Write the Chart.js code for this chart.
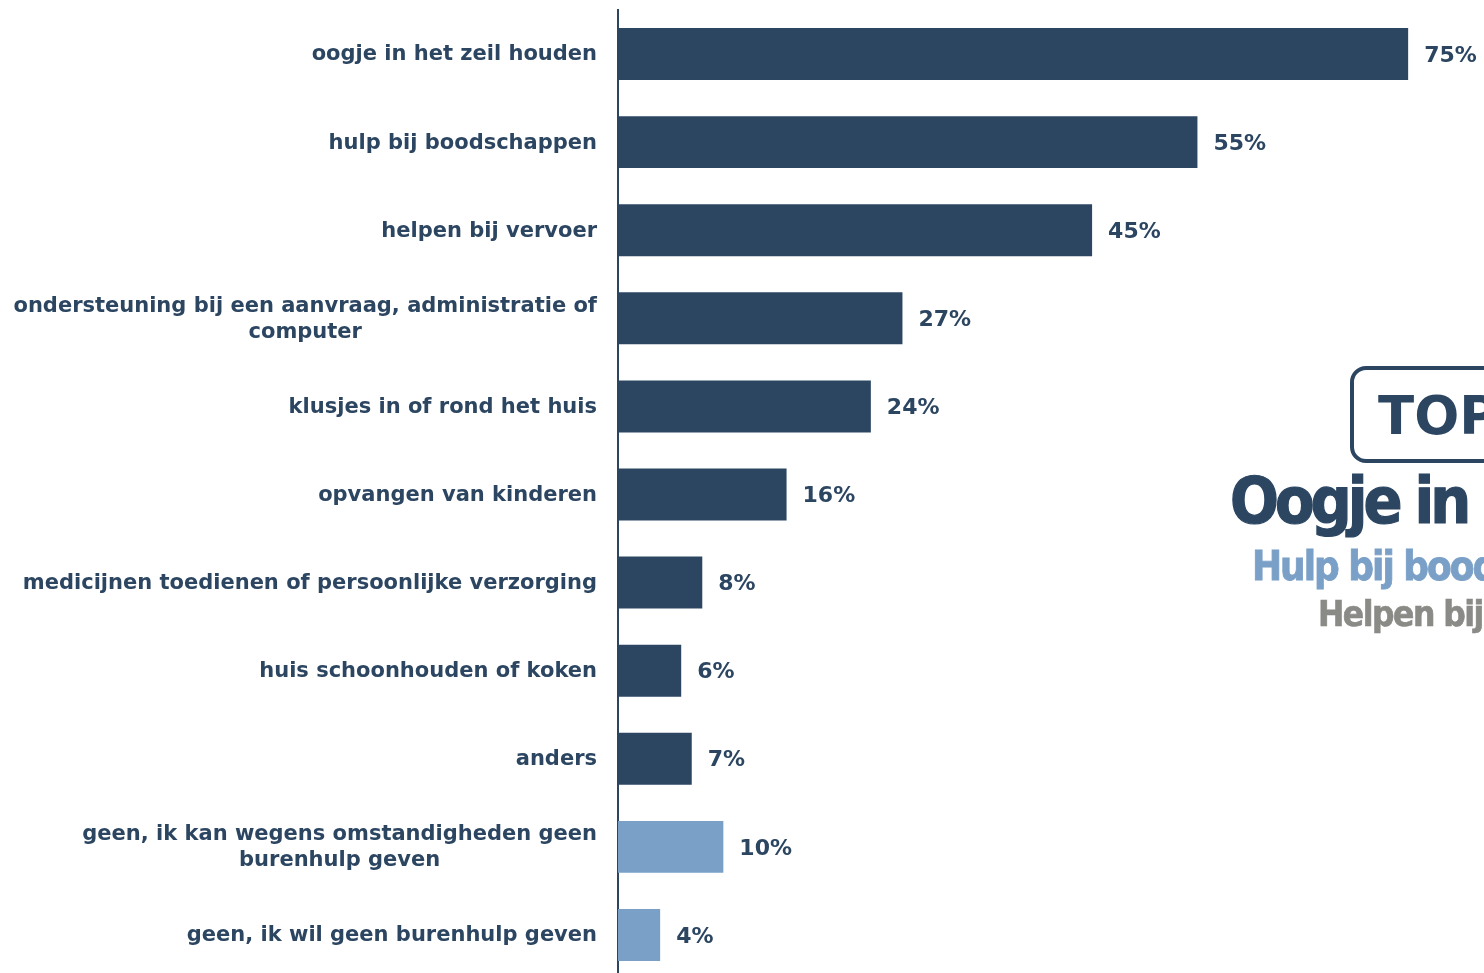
<!DOCTYPE html>
<html>
<head>
<meta charset="utf-8">
<script src="https://cdn.jsdelivr.net/npm/chart.js@4.4.1/dist/chart.umd.min.js"></script>
<style>
  html, body { margin: 0; padding: 0; background: #fff; overflow: hidden; width: 1484px; height: 973px; }
  #wrap { position: relative; width: 1484px; height: 980px; }
  #chart { position: absolute; left: 0; top: 0; }
  .side { position: absolute; white-space: nowrap; font-weight: bold; }
  #topbox { left: 1350px; top: 366px; width: 200px; height: 89px; border: 4px solid #2c4662; border-radius: 16px;
            color: #2c4662; font-family: "DejaVu Sans", Verdana, sans-serif; font-size: 53px; line-height: 92px; padding-left: 24px; }
  .cond { font-family: "DejaVu Sans Condensed", "DejaVu Sans", sans-serif; }
  #t1 { left: 1230px; top: 464px; color: #2c4662; font-size: 64px; letter-spacing: -4px; -webkit-text-stroke: 1.2px #2c4662; }
  #t2 { left: 1252px; top: 543px; color: #7aa0c8; font-size: 40px; letter-spacing: -2px; -webkit-text-stroke: 0.8px #7aa0c8; }
  #t3 { left: 1318px; top: 594px; color: #8a8a87; font-size: 35px; letter-spacing: -1.5px; -webkit-text-stroke: 0.6px #8a8a87; }
</style>
</head>
<body>
<div id="wrap">
  <canvas id="chart" width="1484" height="980"></canvas>
  <div class="side" id="topbox">TOP 3</div>
  <div class="side cond" id="t1">Oogje in het zeil houden</div>
  <div class="side cond" id="t2">Hulp bij boodschappen</div>
  <div class="side cond" id="t3">Helpen bij vervoer</div>
</div>
<script>
// answers (percent of respondents)
const categories = [
  "oogje in het zeil houden",
  "hulp bij boodschappen",
  "helpen bij vervoer",
  ["ondersteuning bij een aanvraag, administratie of", "computer"],
  "klusjes in of rond het huis",
  "opvangen van kinderen",
  "medicijnen toedienen of persoonlijke verzorging",
  "huis schoonhouden of koken",
  "anders",
  ["geen, ik kan wegens omstandigheden geen", "burenhulp geven"],
  "geen, ik wil geen burenhulp geven"
];
const values = [75, 55, 45, 27, 24, 16, 8, 6, 7, 10, 4];
const isNone = [false, false, false, false, false, false, false, false, false, true, true];

const NAVY = "#2c4662";
const LIGHT = "#7aa0c8";
const AXIS_W = 618;
const LABEL_FONT = 'bold 21px "DejaVu Sans", Verdana, sans-serif';
const VALUE_FONT = 'bold 22px "DejaVu Sans", Verdana, sans-serif';

// category labels: right-aligned block, lines centred within a multi-line block
const categoryLabels = {
  id: "categoryLabels",
  afterDraw(chart) {
    const { ctx, scales: { y } } = chart;
    ctx.save();
    ctx.font = LABEL_FONT;
    ctx.fillStyle = NAVY;
    ctx.textBaseline = "middle";
    ctx.textAlign = "center";
    const right = AXIS_W - 21;
    const lh = 26;
    categories.forEach((lab, i) => {
      const lines = Array.isArray(lab) ? lab : [lab];
      const widest = Math.max(...lines.map((l) => ctx.measureText(l).width));
      const cx = right - widest / 2;
      const yc = y.getPixelForTick(i) + 1;
      const y0 = yc - (lines.length - 1) * lh / 2;
      lines.forEach((l, k) => ctx.fillText(l, cx, y0 + k * lh));
    });
    ctx.restore();
  }
};

// percentage next to each bar
const valueLabels = {
  id: "valueLabels",
  afterDatasetsDraw(chart) {
    const { ctx } = chart;
    const meta = chart.getDatasetMeta(0);
    ctx.save();
    ctx.font = VALUE_FONT;
    ctx.fillStyle = NAVY;
    ctx.textBaseline = "middle";
    ctx.textAlign = "left";
    meta.data.forEach((bar, i) => {
      ctx.fillText(values[i] + "%", bar.x + 16, bar.y + 2);
    });
    ctx.restore();
  }
};

new Chart(document.getElementById("chart"), {
  type: "bar",
  data: {
    labels: categories,
    datasets: [{
      data: values,
      backgroundColor: isNone.map((n) => (n ? LIGHT : NAVY)),
      borderWidth: 0,
      barPercentage: 0.59,
      categoryPercentage: 1
    }]
  },
  options: {
    indexAxis: "y",
    responsive: false,
    animation: false,
    layout: { padding: { top: 10, bottom: 1, left: 0, right: 0 } },
    plugins: { legend: { display: false }, tooltip: { enabled: false } },
    scales: {
      x: { display: false, min: 0, max: 82.2 },
      y: {
        grid: { display: false, drawTicks: false },
        border: { display: true, color: NAVY, width: 2 },
        ticks: { display: false },
        afterFit(scale) { scale.width = AXIS_W; }
      }
    }
  },
  plugins: [categoryLabels, valueLabels]
});
</script>
</body>
</html>
